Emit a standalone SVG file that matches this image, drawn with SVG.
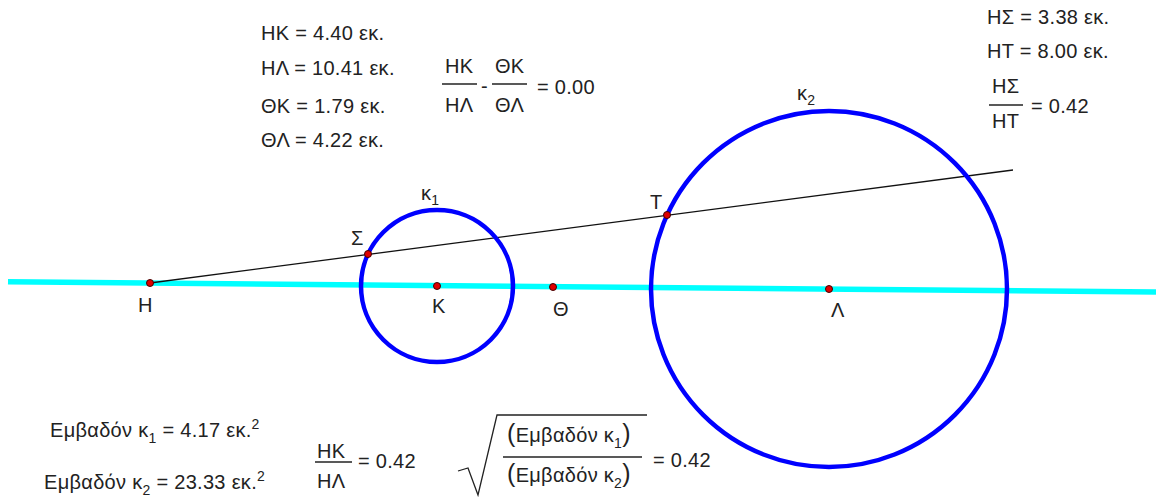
<svg xmlns="http://www.w3.org/2000/svg" width="1156" height="499" viewBox="0 0 1156 499">
<style>
text{font-family:"Liberation Sans",Arial,sans-serif;font-size:20px;fill:#222;letter-spacing:0.3px}
.sub{font-size:14px}
.big{font-size:25px}
.frac{stroke:#222;stroke-width:1.3}
.circ{fill:none;stroke:#0000ff;stroke-width:4.5}
.pt{fill:#e00000;stroke:#400;stroke-width:1}
</style>
<rect width="1156" height="499" fill="#fff"/>
<g id="connectors">
<line id="axis" x1="8" y1="281.7" x2="1156" y2="291.9" stroke="#00ffff" stroke-width="5.5"/>
<line id="ray" x1="150" y1="283" x2="1013" y2="170" stroke="#111" stroke-width="1.3"/>
</g>
<g id="k1"><circle class="circ" cx="437" cy="286" r="76"/><text x="421" y="200">κ<tspan class="sub" dy="5">1</tspan></text></g>
<g id="k2"><circle class="circ" cx="829" cy="289" r="178"/><text x="797" y="100">κ<tspan class="sub" dy="5">2</tspan></text></g>
<g id="H"><circle class="pt" cx="150" cy="283" r="3.5"/><text x="138" y="312">Η</text></g>
<g id="K"><circle class="pt" cx="437" cy="286" r="3.5"/><text x="432" y="313">Κ</text></g>
<g id="Th"><circle class="pt" cx="553" cy="287" r="3.5"/><text x="553" y="316">Θ</text></g>
<g id="L"><circle class="pt" cx="829" cy="289" r="3.5"/><text x="831" y="317">Λ</text></g>
<g id="S"><circle class="pt" cx="368" cy="254" r="3.5"/><text x="351" y="245">Σ</text></g>
<g id="T"><circle class="pt" cx="667" cy="215" r="3.5"/><text x="650" y="209">Τ</text></g>
<g id="measures-left">
<text x="261" y="40">ΗΚ = 4.40 εκ.</text>
<text x="261" y="75">ΗΛ = 10.41 εκ.</text>
<text x="261" y="113">ΘΚ = 1.79 εκ.</text>
<text x="261" y="147">ΘΛ = 4.22 εκ.</text>
</g>
<g id="ratio-diff">
<text x="445" y="73">ΗΚ</text>
<line class="frac" x1="442" y1="84" x2="477" y2="84"/>
<text x="445" y="112">ΗΛ</text>
<text x="481" y="93">-</text>
<text x="495" y="73">ΘΚ</text>
<line class="frac" x1="492" y1="84" x2="527" y2="84"/>
<text x="495" y="112">ΘΛ</text>
<text x="537" y="94">= 0.00</text>
</g>
<g id="measures-right">
<text x="987" y="24">ΗΣ = 3.38 εκ.</text>
<text x="987" y="58">ΗΤ = 8.00 εκ.</text>
<text x="992" y="93">ΗΣ</text>
<line class="frac" x1="989" y1="105" x2="1023" y2="105"/>
<text x="992" y="128">ΗΤ</text>
<text x="1031" y="113">= 0.42</text>
</g>
<g id="areas">
<text x="50" y="437">Εμβαδόν κ<tspan class="sub" dy="6">1</tspan><tspan dy="-6"> = 4.17 εκ.</tspan><tspan class="sub" dy="-8">2</tspan></text>
<text x="44" y="489">Εμβαδόν κ<tspan class="sub" dy="6">2</tspan><tspan dy="-6"> = 23.33 εκ.</tspan><tspan class="sub" dy="-8">2</tspan></text>
</g>
<g id="ratio-hk">
<text x="317" y="458">ΗΚ</text>
<line class="frac" x1="315" y1="462" x2="352" y2="462"/>
<text x="317" y="488">ΗΛ</text>
<text x="358" y="468">= 0.42</text>
</g>
<g id="sqrt-ratio">
<polyline points="458,471 468,468 478,495 497,415 647,415" fill="none" stroke="#222" stroke-width="1.3"/>
<text x="507" y="442"><tspan class="big">(</tspan>Εμβαδόν κ<tspan class="sub" dy="6">1</tspan><tspan class="big" dy="-6">)</tspan></text>
<line class="frac" x1="503" y1="457" x2="642" y2="457"/>
<text x="507" y="482"><tspan class="big">(</tspan>Εμβαδόν κ<tspan class="sub" dy="6">2</tspan><tspan class="big" dy="-6">)</tspan></text>
<text x="653" y="467">= 0.42</text>
</g>
</svg>
